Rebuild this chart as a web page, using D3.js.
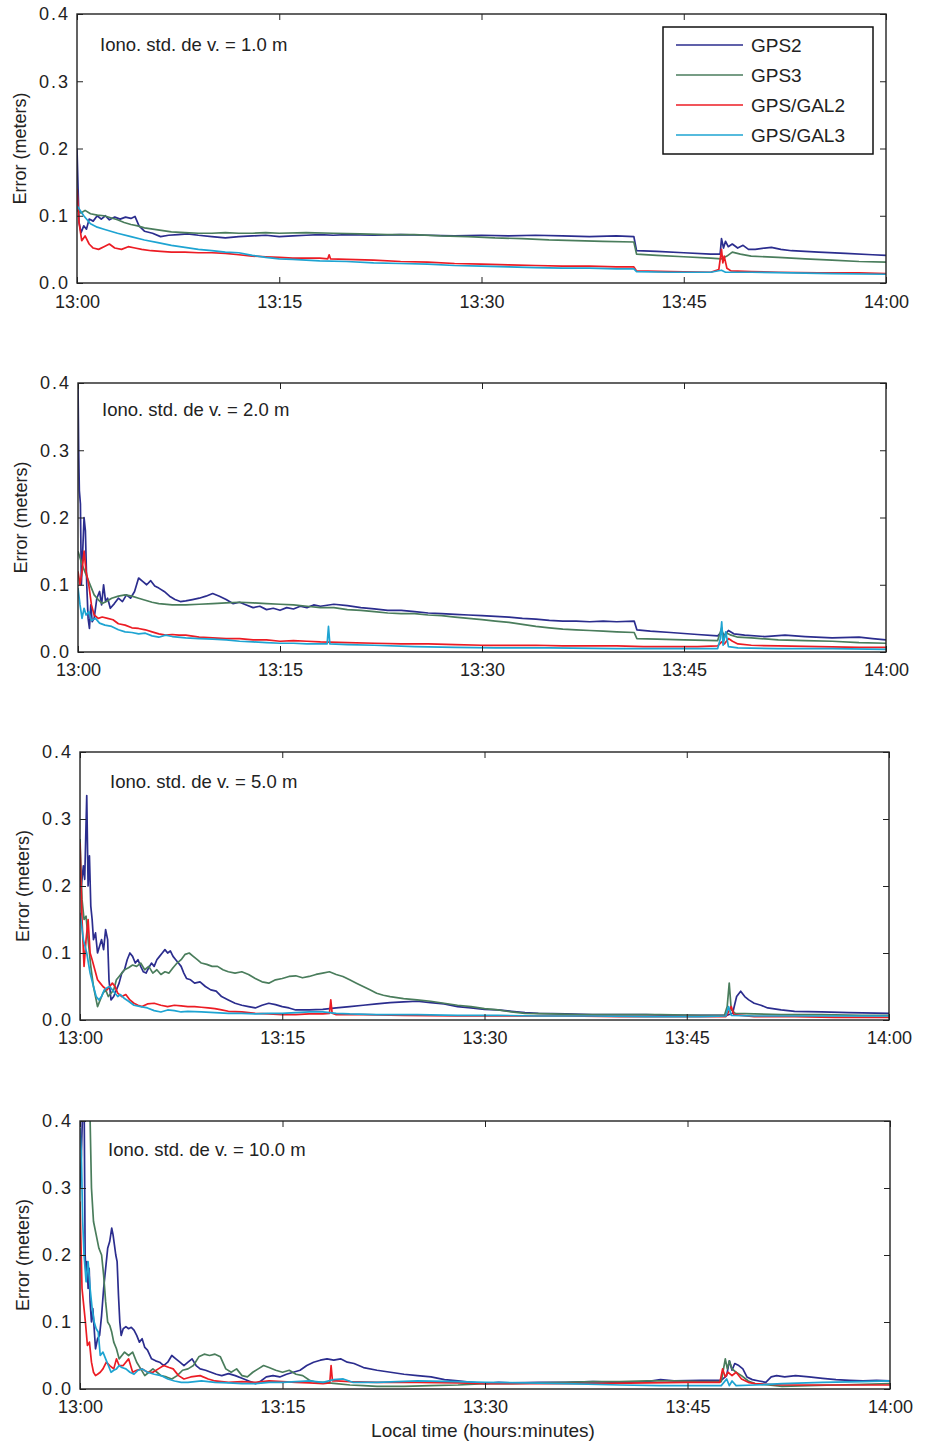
<!DOCTYPE html>
<html><head><meta charset="utf-8">
<script src="https://cdn.jsdelivr.net/npm/d3@7"></script>
<style>
html,body{margin:0;padding:0;background:#fff;}
svg{display:block;font-family:"Liberation Sans",Arial,Helvetica,sans-serif;}
</style></head>
<body><svg id="chart" width="929" height="1441"></svg>
<script>
// ---------- DATA ----------
const seriesNames = ["GPS2","GPS3","GPS/GAL2","GPS/GAL3"];
const ionoLabels = ["Iono. std. de v. = 1.0 m","Iono. std. de v. = 2.0 m","Iono. std. de v. = 5.0 m","Iono. std. de v. = 10.0 m"];
const xTickValues = [0,15,30,45,60]; // minutes after 13:00
const xTickLabels = ["13:00","13:15","13:30","13:45","14:00"];
const yTickValues = [0,0.1,0.2,0.3,0.4];
const yTickLabels = ["0.0","0.1","0.2","0.3","0.4"];
const yLabel = "Error (meters)";
const xLabel = "Local time (hours:minutes)";

// Panel 1 : iono std dev 1.0 m   ([minute, error m])
const p1GPS2 = [[0,0.2],[0.15,0.09],[0.3,0.075],[0.5,0.085],[0.7,0.08],[0.9,0.095],[1.2,0.092],[1.5,0.1],[1.8,0.095],[2.1,0.1],[2.4,0.094],[2.8,0.098],[3.2,0.095],[3.6,0.098],[4.0,0.096],[4.3,0.099],[4.6,0.085],[5.0,0.077],[5.6,0.074],[6.2,0.069],[6.8,0.071],[7.5,0.072],[8.2,0.073],[9.0,0.071],[10,0.069],[11,0.067],[12,0.069],[13,0.07],[14,0.071],[15,0.069],[16,0.07],[17,0.071],[18,0.072],[19,0.071],[20,0.072],[22,0.071],[24,0.072],[26,0.071],[28,0.07],[30,0.071],[32,0.07],[34,0.071],[36,0.07],[38,0.069],[40,0.07],[41.3,0.069],[41.5,0.048],[43,0.047],[45,0.045],[47,0.043],[47.7,0.043],[47.8,0.066],[47.95,0.052],[48.1,0.062],[48.3,0.054],[48.6,0.058],[49,0.052],[49.4,0.056],[49.8,0.05],[50.3,0.05],[51,0.052],[51.5,0.053],[52.2,0.05],[53,0.048],[55,0.046],[57,0.044],[59,0.042],[60,0.041]];
const p1GPS3 = [[0,0.108],[0.3,0.104],[0.6,0.108],[1,0.103],[1.5,0.101],[2,0.1],[2.5,0.097],[3,0.094],[3.5,0.09],[4,0.087],[4.5,0.085],[5,0.082],[6,0.079],[7,0.076],[8,0.075],[9,0.074],[10,0.074],[11,0.075],[12,0.074],[13,0.074],[14,0.075],[15,0.074],[17,0.075],[19,0.074],[21,0.073],[23,0.072],[25,0.072],[27,0.07],[29,0.069],[31,0.067],[33,0.066],[35,0.064],[37,0.063],[39,0.062],[41.3,0.061],[41.5,0.043],[43,0.041],[45,0.039],[47,0.037],[47.8,0.036],[48.2,0.04],[48.6,0.046],[49.2,0.043],[50,0.04],[52,0.038],[54,0.036],[56,0.034],[58,0.032],[60,0.031]];
const p1GAL2 = [[0,0.14],[0.15,0.09],[0.35,0.063],[0.6,0.07],[0.9,0.058],[1.2,0.052],[1.6,0.05],[2.0,0.054],[2.4,0.058],[2.8,0.052],[3.3,0.05],[3.8,0.054],[4.3,0.052],[4.8,0.05],[5.5,0.048],[6.2,0.047],[7,0.046],[8,0.046],[9,0.045],[10,0.045],[11,0.044],[12,0.042],[13,0.04],[14,0.039],[15,0.038],[16,0.037],[17,0.037],[18,0.037],[18.6,0.036],[18.7,0.042],[18.8,0.036],[20,0.035],[22,0.034],[24,0.032],[26,0.031],[28,0.029],[30,0.028],[32,0.027],[34,0.026],[36,0.025],[38,0.025],[40,0.024],[41.3,0.024],[41.5,0.018],[44,0.017],[47,0.016],[47.6,0.02],[47.8,0.05],[47.9,0.03],[48.0,0.04],[48.2,0.022],[48.5,0.018],[50,0.017],[52,0.016],[55,0.015],[58,0.015],[60,0.014]];
const p1GAL3 = [[0,0.115],[0.5,0.1],[1,0.088],[1.5,0.083],[2,0.08],[3,0.074],[4,0.069],[5,0.064],[6,0.06],[7,0.056],[8,0.053],[9,0.05],[10,0.048],[11,0.046],[12,0.045],[13,0.041],[14,0.038],[15,0.036],[16,0.035],[17,0.034],[18,0.033],[20,0.032],[22,0.03],[24,0.029],[26,0.028],[28,0.026],[30,0.025],[32,0.024],[34,0.023],[36,0.022],[38,0.022],[40,0.021],[41.3,0.021],[41.5,0.017],[44,0.016],[47,0.016],[47.8,0.019],[48.1,0.016],[50,0.016],[53,0.015],[56,0.014],[60,0.013]];

// Panel 2 : iono std dev 2.0 m
const p2GPS2 = [[0,0.4],[0.05,0.3],[0.1,0.24],[0.18,0.22],[0.25,0.1],[0.35,0.15],[0.45,0.2],[0.55,0.18],[0.65,0.1],[0.75,0.05],[0.85,0.035],[0.95,0.07],[1.05,0.045],[1.2,0.05],[1.4,0.08],[1.6,0.09],[1.75,0.07],[1.9,0.1],[2.05,0.075],[2.2,0.08],[2.4,0.065],[2.7,0.072],[3.0,0.08],[3.3,0.075],[3.6,0.085],[3.9,0.08],[4.2,0.09],[4.5,0.11],[4.8,0.105],[5.1,0.1],[5.4,0.106],[5.7,0.098],[6.0,0.095],[6.4,0.09],[6.8,0.083],[7.2,0.078],[7.6,0.075],[8.0,0.076],[8.5,0.078],[9.0,0.08],[9.5,0.083],[10,0.087],[10.5,0.083],[11,0.078],[11.5,0.072],[12,0.074],[12.5,0.07],[13,0.066],[13.5,0.068],[14,0.063],[14.5,0.065],[15,0.062],[15.5,0.066],[16,0.064],[16.5,0.068],[17,0.066],[17.5,0.07],[18,0.068],[19,0.071],[20,0.069],[21,0.066],[22,0.064],[23,0.062],[24,0.062],[25,0.06],[26,0.058],[27,0.057],[28,0.056],[29,0.055],[30,0.054],[31,0.053],[32,0.052],[33,0.05],[34,0.049],[35,0.047],[36,0.046],[37,0.046],[38,0.045],[39,0.046],[40,0.045],[41.3,0.046],[41.5,0.033],[42.5,0.031],[44,0.029],[46,0.026],[47.5,0.024],[47.8,0.03],[48.0,0.025],[48.3,0.032],[48.7,0.027],[49.5,0.025],[51,0.023],[52.5,0.025],[54,0.023],[56,0.021],[58,0.022],[59,0.02],[60,0.018]];
const p2GPS3 = [[0,0.15],[0.3,0.13],[0.6,0.115],[0.9,0.1],[1.2,0.085],[1.5,0.078],[1.8,0.072],[2.1,0.075],[2.5,0.08],[3,0.083],[3.5,0.085],[4,0.083],[4.5,0.08],[5,0.077],[5.5,0.074],[6,0.072],[7,0.07],[8,0.07],[9,0.071],[10,0.072],[11,0.073],[12,0.074],[13,0.073],[14,0.072],[15,0.071],[16,0.07],[17,0.068],[18,0.066],[19,0.066],[20,0.063],[21,0.062],[22,0.06],[23,0.058],[24,0.057],[25,0.057],[26,0.055],[27,0.054],[28,0.052],[29,0.05],[30,0.048],[31,0.046],[32,0.044],[33,0.041],[34,0.038],[35,0.036],[36,0.034],[37,0.033],[38,0.032],[39,0.031],[40,0.03],[41.3,0.029],[41.5,0.02],[43,0.019],[45,0.018],[47.5,0.017],[47.8,0.036],[47.95,0.02],[48.2,0.028],[48.5,0.025],[49,0.022],[50,0.021],[52,0.018],[54,0.017],[56,0.016],[58,0.014],[60,0.013]];
const p2GAL2 = [[0,0.12],[0.15,0.1],[0.3,0.12],[0.45,0.15],[0.6,0.12],[0.8,0.1],[1.0,0.07],[1.2,0.055],[1.5,0.05],[1.8,0.052],[2.2,0.05],[2.6,0.048],[3,0.042],[3.5,0.04],[4,0.036],[4.5,0.035],[5,0.033],[5.5,0.03],[6,0.027],[6.5,0.025],[7,0.026],[7.5,0.025],[8,0.025],[9,0.022],[10,0.021],[11,0.02],[12,0.02],[13,0.018],[14,0.018],[15,0.016],[16,0.017],[17,0.016],[18,0.015],[20,0.014],[22,0.013],[24,0.012],[26,0.012],[28,0.011],[30,0.01],[32,0.01],[34,0.01],[36,0.009],[38,0.009],[40,0.009],[42,0.008],[44,0.008],[46,0.008],[47.5,0.009],[47.8,0.015],[48,0.012],[48.3,0.02],[48.6,0.016],[49,0.012],[50,0.01],[52,0.009],[55,0.008],[58,0.007],[60,0.007]];
const p2GAL3 = [[0,0.095],[0.15,0.07],[0.3,0.05],[0.45,0.065],[0.6,0.055],[0.8,0.06],[1.0,0.047],[1.3,0.05],[1.6,0.043],[2,0.04],[2.5,0.038],[3,0.033],[3.5,0.03],[4,0.029],[4.5,0.027],[5,0.028],[5.5,0.024],[6,0.022],[6.5,0.025],[7,0.023],[8,0.021],[9,0.02],[10,0.019],[11,0.018],[12,0.016],[13,0.015],[14,0.014],[15,0.013],[16,0.013],[17,0.012],[18,0.012],[18.5,0.012],[18.6,0.038],[18.7,0.012],[20,0.011],[22,0.01],[25,0.008],[28,0.007],[31,0.006],[35,0.006],[40,0.005],[44,0.005],[47.5,0.005],[47.7,0.02],[47.8,0.045],[47.9,0.01],[48.1,0.03],[48.3,0.008],[49,0.006],[52,0.005],[56,0.005],[60,0.004]];

// Panel 3 : iono std dev 5.0 m
const p3GPS2 = [[0,0.22],[0.1,0.2],[0.25,0.23],[0.35,0.21],[0.5,0.335],[0.6,0.2],[0.7,0.245],[0.8,0.17],[0.9,0.15],[1.0,0.12],[1.15,0.13],[1.3,0.1],[1.45,0.11],[1.6,0.12],[1.75,0.105],[1.9,0.135],[2.05,0.12],[2.15,0.06],[2.3,0.03],[2.5,0.035],[2.7,0.045],[2.9,0.055],[3.1,0.07],[3.3,0.075],[3.5,0.09],[3.7,0.1],[3.9,0.095],[4.1,0.085],[4.3,0.09],[4.5,0.08],[4.7,0.072],[4.9,0.07],[5.1,0.078],[5.3,0.085],[5.5,0.08],[5.7,0.09],[5.9,0.095],[6.1,0.1],[6.3,0.105],[6.5,0.1],[6.7,0.103],[6.9,0.095],[7.1,0.09],[7.3,0.085],[7.5,0.08],[7.7,0.07],[7.9,0.062],[8.2,0.06],[8.5,0.055],[8.9,0.057],[9.3,0.05],[9.7,0.045],[10.1,0.043],[10.5,0.035],[11,0.03],[11.5,0.025],[12,0.022],[12.5,0.02],[13,0.018],[13.5,0.022],[14,0.025],[14.5,0.023],[15,0.02],[15.5,0.018],[16,0.015],[17,0.015],[18,0.016],[19,0.018],[20,0.02],[21,0.022],[22,0.024],[23,0.026],[24,0.027],[25,0.028],[26,0.026],[27,0.024],[28,0.02],[29,0.018],[30,0.016],[31,0.015],[32,0.013],[33,0.011],[34,0.01],[36,0.009],[38,0.008],[40,0.008],[42,0.008],[44,0.007],[46,0.007],[48,0.007],[48.4,0.01],[48.7,0.035],[49,0.043],[49.3,0.035],[49.6,0.03],[50,0.025],[50.5,0.022],[51,0.018],[52,0.015],[53,0.013],[55,0.012],[57,0.011],[60,0.01]];
const p3GPS3 = [[0,0.27],[0.15,0.18],[0.3,0.15],[0.45,0.155],[0.6,0.12],[0.8,0.08],[1.0,0.05],[1.15,0.035],[1.3,0.02],[1.5,0.03],[1.7,0.04],[1.9,0.045],[2.1,0.035],[2.3,0.04],[2.5,0.045],[2.7,0.06],[2.9,0.065],[3.1,0.07],[3.3,0.075],[3.6,0.078],[3.9,0.082],[4.2,0.08],[4.5,0.085],[4.8,0.075],[5.1,0.08],[5.4,0.07],[5.7,0.075],[6.0,0.068],[6.3,0.072],[6.6,0.07],[6.9,0.078],[7.2,0.085],[7.5,0.09],[7.8,0.098],[8.1,0.1],[8.4,0.095],[8.7,0.09],[9.0,0.085],[9.4,0.083],[9.8,0.08],[10.2,0.08],[10.6,0.075],[11,0.072],[11.5,0.07],[12,0.072],[12.5,0.068],[13,0.062],[13.5,0.057],[14,0.055],[14.5,0.06],[15,0.062],[15.5,0.065],[16,0.066],[16.5,0.063],[17,0.065],[17.5,0.068],[18,0.07],[18.5,0.072],[19,0.068],[19.5,0.065],[20,0.06],[20.5,0.055],[21,0.05],[21.5,0.045],[22,0.04],[22.5,0.037],[23,0.035],[24,0.032],[25,0.03],[26,0.028],[27,0.025],[28,0.022],[29,0.02],[30,0.017],[31,0.015],[32,0.012],[33,0.01],[35,0.009],[37,0.008],[40,0.008],[43,0.008],[46,0.007],[47.8,0.007],[48.0,0.02],[48.15,0.055],[48.3,0.015],[48.6,0.01],[50,0.009],[52,0.008],[55,0.008],[58,0.007],[60,0.007]];
const p3GAL2 = [[0,0.265],[0.15,0.15],[0.3,0.08],[0.45,0.12],[0.6,0.15],[0.75,0.1],[0.9,0.09],[1.1,0.075],[1.3,0.06],[1.5,0.055],[1.7,0.05],[2.0,0.045],[2.2,0.05],[2.4,0.055],[2.6,0.05],[2.8,0.04],[3.1,0.035],[3.4,0.038],[3.7,0.03],[4.0,0.025],[4.3,0.022],[4.6,0.02],[5.0,0.024],[5.5,0.025],[6,0.022],[6.5,0.02],[7,0.022],[7.5,0.021],[8,0.02],[8.5,0.02],[9,0.019],[9.5,0.018],[10,0.017],[10.5,0.015],[11,0.013],[12,0.012],[13,0.01],[14,0.009],[15,0.008],[16,0.008],[17,0.009],[18,0.009],[18.5,0.01],[18.6,0.03],[18.7,0.01],[19,0.008],[21,0.008],[24,0.007],[28,0.006],[32,0.006],[36,0.006],[40,0.005],[44,0.005],[47.9,0.005],[48.1,0.012],[48.3,0.02],[48.5,0.008],[50,0.005],[53,0.005],[56,0.004],[60,0.004]];
const p3GAL3 = [[0,0.16],[0.25,0.12],[0.5,0.1],[0.75,0.07],[1.0,0.05],[1.2,0.035],[1.4,0.03],[1.6,0.035],[1.8,0.045],[2.0,0.048],[2.2,0.05],[2.4,0.045],[2.6,0.04],[2.8,0.035],[3.0,0.038],[3.3,0.032],[3.6,0.028],[4,0.022],[4.5,0.02],[5,0.018],[5.5,0.014],[6,0.012],[6.5,0.015],[7,0.014],[7.5,0.012],[8,0.013],[9,0.012],[10,0.011],[11,0.01],[12,0.01],[13,0.009],[14,0.01],[15,0.01],[16,0.011],[17,0.012],[18,0.012],[19,0.01],[20,0.009],[22,0.008],[25,0.008],[28,0.007],[31,0.007],[34,0.006],[38,0.006],[42,0.005],[46,0.005],[47.9,0.006],[48.1,0.02],[48.3,0.007],[50,0.006],[53,0.006],[56,0.006],[60,0.006]];

// Panel 4 : iono std dev 10.0 m
const p4GPS2 = [[0,0.3],[0.1,0.35],[0.2,0.42],[0.3,0.45],[0.38,0.2],[0.45,0.17],[0.52,0.19],[0.6,0.15],[0.68,0.18],[0.75,0.13],[0.85,0.1],[0.95,0.12],[1.05,0.09],[1.15,0.06],[1.3,0.075],[1.45,0.08],[1.6,0.11],[1.75,0.15],[1.9,0.18],[2.05,0.21],[2.2,0.22],[2.35,0.24],[2.45,0.23],[2.55,0.215],[2.65,0.2],[2.75,0.19],[2.85,0.14],[2.95,0.1],[3.05,0.08],[3.2,0.09],[3.4,0.093],[3.6,0.09],[3.8,0.092],[4.0,0.088],[4.2,0.08],[4.4,0.07],[4.6,0.075],[4.8,0.062],[5.0,0.058],[5.3,0.045],[5.6,0.042],[5.9,0.04],[6.2,0.035],[6.5,0.04],[6.8,0.05],[7.1,0.045],[7.4,0.04],[7.7,0.035],[8.0,0.04],[8.3,0.045],[8.6,0.035],[8.9,0.03],[9.3,0.028],[9.7,0.025],[10.1,0.022],[10.5,0.02],[11,0.023],[11.5,0.02],[12,0.016],[12.5,0.012],[13,0.008],[13.4,0.012],[13.8,0.018],[14.3,0.02],[14.8,0.018],[15.3,0.022],[15.8,0.025],[16.3,0.028],[16.8,0.035],[17.3,0.04],[17.8,0.043],[18.3,0.045],[18.8,0.043],[19.3,0.045],[19.8,0.04],[20.3,0.038],[21,0.032],[22,0.028],[23,0.025],[24,0.022],[25,0.02],[26,0.018],[27,0.014],[28,0.012],[29,0.01],[30,0.008],[31,0.01],[32,0.009],[34,0.01],[36,0.01],[38,0.011],[40,0.01],[42,0.011],[43,0.014],[44,0.012],[46,0.013],[47.5,0.013],[47.9,0.02],[48.1,0.042],[48.3,0.028],[48.5,0.038],[48.8,0.035],[49.1,0.03],[49.4,0.018],[49.8,0.014],[50.3,0.012],[50.8,0.01],[51.2,0.018],[51.6,0.02],[52.2,0.018],[53,0.02],[54,0.018],[55,0.016],[56,0.014],[57,0.013],[58,0.012],[59,0.013],[60,0.012]];
const p4GPS3 = [[0,0.5],[0.6,0.5],[0.75,0.4],[0.85,0.3],[1.0,0.25],[1.2,0.23],[1.4,0.21],[1.6,0.2],[1.75,0.17],[1.9,0.13],[2.05,0.1],[2.2,0.095],[2.35,0.085],[2.5,0.07],[2.7,0.06],[2.9,0.045],[3.1,0.05],[3.3,0.055],[3.6,0.05],[3.9,0.055],[4.2,0.04],[4.5,0.03],[4.8,0.02],[5.1,0.025],[5.4,0.03],[5.7,0.025],[6.0,0.02],[6.4,0.018],[6.8,0.015],[7.2,0.02],[7.6,0.028],[8.0,0.03],[8.4,0.035],[8.8,0.048],[9.2,0.052],[9.6,0.05],[10.0,0.052],[10.4,0.048],[10.8,0.03],[11.2,0.025],[11.6,0.03],[12.0,0.02],[12.4,0.018],[12.8,0.025],[13.2,0.03],[13.6,0.035],[14.0,0.032],[14.5,0.028],[15.0,0.025],[15.5,0.028],[16.0,0.022],[16.5,0.02],[17,0.013],[17.5,0.01],[18,0.01],[19,0.008],[20,0.006],[21,0.005],[22,0.004],[24,0.004],[26,0.005],[28,0.006],[30,0.008],[32,0.008],[34,0.009],[36,0.01],[38,0.011],[40,0.011],[42,0.012],[44,0.012],[46,0.011],[47.5,0.011],[47.8,0.045],[47.95,0.03],[48.1,0.042],[48.3,0.03],[48.6,0.025],[49,0.02],[49.5,0.012],[50,0.008],[51,0.006],[52,0.004],[54,0.005],[56,0.006],[58,0.007],[60,0.008]];
const p4GAL2 = [[0,0.28],[0.15,0.15],[0.3,0.12],[0.4,0.1],[0.55,0.065],[0.7,0.07],[0.85,0.04],[1.0,0.025],[1.15,0.02],[1.3,0.022],[1.5,0.025],[1.7,0.03],[1.95,0.04],[2.2,0.035],[2.5,0.03],[2.7,0.045],[2.9,0.035],[3.2,0.035],[3.6,0.045],[3.9,0.025],[4.2,0.028],[4.6,0.03],[5.0,0.025],[5.4,0.025],[5.8,0.03],[6.2,0.035],[6.6,0.032],[6.9,0.03],[7.3,0.02],[7.7,0.015],[8.2,0.018],[8.9,0.02],[9.5,0.015],[10,0.012],[11,0.01],[12,0.011],[13,0.01],[14,0.012],[15,0.011],[16,0.01],[17,0.009],[18,0.008],[18.5,0.009],[18.6,0.035],[18.7,0.012],[19,0.012],[20,0.011],[22,0.01],[25,0.01],[28,0.009],[30,0.008],[34,0.008],[38,0.008],[42,0.009],[45,0.01],[47.4,0.01],[47.6,0.03],[47.8,0.018],[48.0,0.025],[48.3,0.02],[48.6,0.025],[49,0.015],[49.5,0.01],[50,0.008],[52,0.006],[55,0.006],[58,0.006],[60,0.006]];
const p4GAL3 = [[0,0.39],[0.1,0.35],[0.2,0.25],[0.3,0.2],[0.45,0.16],[0.6,0.19],[0.75,0.15],[0.9,0.12],[1.05,0.1],[1.2,0.09],[1.35,0.085],[1.5,0.05],[1.7,0.055],[1.9,0.045],[2.1,0.035],[2.3,0.025],[2.5,0.028],[2.7,0.03],[2.9,0.035],[3.1,0.032],[3.4,0.03],[3.7,0.025],[4.0,0.022],[4.3,0.028],[4.6,0.03],[5.0,0.025],[5.5,0.022],[6.0,0.02],[6.5,0.015],[7.0,0.012],[7.5,0.01],[8,0.01],[9,0.012],[10,0.01],[11,0.009],[12,0.008],[13,0.008],[14,0.01],[15,0.01],[16,0.011],[17,0.012],[18,0.01],[18.8,0.014],[19.5,0.015],[20.2,0.01],[22,0.01],[25,0.012],[28,0.011],[30,0.01],[33,0.009],[36,0.008],[40,0.006],[43,0.005],[46,0.005],[47.5,0.005],[47.9,0.015],[48.1,0.005],[48.3,0.012],[48.6,0.005],[50,0.006],[52,0.008],[55,0.01],[58,0.011],[60,0.012]];

const panelData = [
  [p1GPS2,p1GPS3,p1GAL2,p1GAL3],
  [p2GPS2,p2GPS3,p2GAL2,p2GAL3],
  [p3GPS2,p3GPS3,p3GAL2,p3GAL3],
  [p4GPS2,p4GPS3,p4GAL2,p4GAL3]
];

// ---------- STYLE / LAYOUT ----------
const colors = ["#2b2d8e","#4a7d5c","#ec1c24","#1ea4d2"];
const boxes = [
  {l:77,r:886,t:14,b:283,ax:23,ay:31,lblDy:19},
  {l:78,r:886,t:383,b:652,ax:24,ay:27,lblDy:18},
  {l:80,r:889,t:752,b:1020,ax:30,ay:30,lblDy:18},
  {l:80,r:890,t:1121,b:1389,ax:28,ay:29,lblDy:18}
];
const FONT = 18;
const svg = d3.select("#chart");

boxes.forEach((bx,pi)=>{
  const x = d3.scaleLinear().domain([0,60]).range([bx.l,bx.r]);
  const y = d3.scaleLinear().domain([0,0.4]).range([bx.b,bx.t]);
  const g = svg.append("g");
  const clipId = "clip"+pi;
  svg.append("clipPath").attr("id",clipId).append("rect")
    .attr("x",bx.l).attr("y",bx.t).attr("width",bx.r-bx.l).attr("height",bx.b-bx.t);

  // lines
  const line = d3.line().x(d=>x(d[0])).y(d=>y(d[1]));
  const lg = g.append("g").attr("clip-path",`url(#${clipId})`);
  panelData[pi].forEach((ser,si)=>{
    lg.append("path").datum(ser).attr("d",line)
      .attr("fill","none").attr("stroke",colors[si]).attr("stroke-width",1.7)
      .attr("stroke-linejoin","round");
  });

  // axes (inward ticks)
  const fmtX = (d)=>xTickLabels[xTickValues.indexOf(d)];
  const fmtY = (d)=>yTickLabels[yTickValues.indexOf(d)];
  const axB = g.append("g").attr("transform",`translate(0,${bx.b})`)
    .call(d3.axisBottom(x).tickValues(xTickValues).tickFormat(fmtX).tickSizeInner(-6).tickSizeOuter(0).tickPadding(bx.lblDy-7));
  const axT = g.append("g").attr("transform",`translate(0,${bx.t})`)
    .call(d3.axisTop(x).tickValues(xTickValues).tickFormat("").tickSizeInner(-6).tickSizeOuter(0));
  const axL = g.append("g").attr("transform",`translate(${bx.l},0)`)
    .call(d3.axisLeft(y).tickValues(yTickValues).tickFormat(fmtY).tickSizeInner(-6).tickSizeOuter(0).tickPadding(7));
  const axR = g.append("g").attr("transform",`translate(${bx.r},0)`)
    .call(d3.axisRight(y).tickValues(yTickValues).tickFormat("").tickSizeInner(-6).tickSizeOuter(0));
  [axB,axT,axL,axR].forEach(a=>{
    a.select(".domain").remove();
    a.selectAll("line").attr("stroke","#222").attr("stroke-width",1);
    a.selectAll("text").attr("font-size",FONT).attr("fill","#222").attr("font-family","Liberation Sans, Arial, sans-serif");
  });
  axL.selectAll("text").attr("letter-spacing","2px");
  // frame
  g.append("rect").attr("x",bx.l).attr("y",bx.t).attr("width",bx.r-bx.l).attr("height",bx.b-bx.t)
    .attr("fill","none").attr("stroke","#222").attr("stroke-width",1.4);

  // annotation
  g.append("text").attr("x",bx.l+bx.ax).attr("y",bx.t+bx.ay).attr("dy","0.35em")
    .attr("font-size",18.5).attr("fill","#222").text(ionoLabels[pi]);

  // y label
  g.append("text").attr("transform",`translate(${bx.l-57},${(bx.t+bx.b)/2}) rotate(-90)`)
    .attr("text-anchor","middle").attr("dy","0.35em").attr("font-size",18).attr("fill","#222").text(yLabel);

  // legend in first panel
  if(pi===0){
    const L = {x:663,y:27,w:210,h:127};
    const lgd = g.append("g");
    lgd.append("rect").attr("x",L.x).attr("y",L.y).attr("width",L.w).attr("height",L.h)
      .attr("fill","#fff").attr("stroke","#111").attr("stroke-width",1.5);
    seriesNames.forEach((n,i)=>{
      const cy = L.y+18+i*30;
      lgd.append("line").attr("x1",L.x+13).attr("x2",L.x+80).attr("y1",cy).attr("y2",cy)
        .attr("stroke",colors[i]).attr("stroke-width",1.7);
      lgd.append("text").attr("x",L.x+88).attr("y",cy).attr("dy","0.35em")
        .attr("font-size",19).attr("fill","#222").text(n);
    });
  }
});

// x axis title
svg.append("text").attr("x",483).attr("y",1430).attr("dy","0.35em").attr("text-anchor","middle")
  .attr("font-size",19).attr("fill","#222").text(xLabel);
</script>
</body></html>
